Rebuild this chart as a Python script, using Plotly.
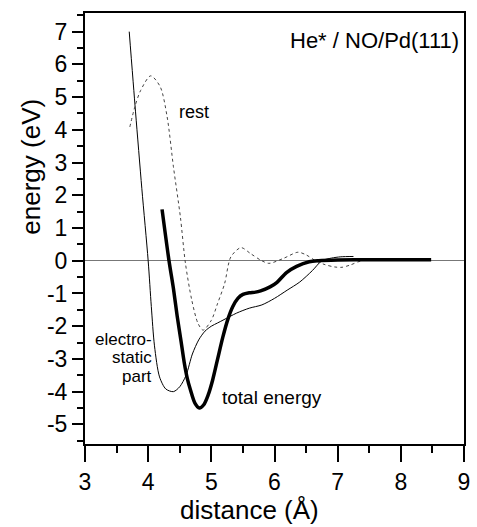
import plotly.graph_objects as go

# ---- data ----
elec_x = [3.70, 3.80, 3.90, 4.00, 4.05, 4.10, 4.18, 4.28, 4.40, 4.50, 4.60, 4.70, 4.80, 4.90, 5.00,
          5.10, 5.20, 5.40, 5.60, 5.80, 6.00, 6.20, 6.40, 6.60, 6.75, 6.90, 7.05, 7.25]
elec_y = [7.00, 4.55, 2.20, 0.00, -1.40, -2.60, -3.55, -3.92, -4.00, -3.85, -3.50, -2.85, -2.42, -2.15, -2.00,
          -1.90, -1.80, -1.60, -1.45, -1.35, -1.15, -0.90, -0.65, -0.30, 0.00, 0.08, 0.12, 0.13]

total_x = [4.22, 4.33, 4.40, 4.46, 4.52, 4.57, 4.62, 4.67, 4.74, 4.81, 4.88, 4.95, 5.02, 5.10, 5.18,
           5.26, 5.34, 5.42, 5.50, 5.60, 5.70, 5.78, 5.93, 6.04, 6.19, 6.35, 6.55, 6.70, 7.00, 7.50, 8.00, 8.48]
total_y = [1.57, 0.00, -0.85, -1.70, -2.45, -3.10, -3.60, -3.95, -4.35, -4.50, -4.40, -4.10, -3.65, -3.00, -2.35,
           -1.80, -1.40, -1.15, -1.03, -0.98, -0.96, -0.92, -0.80, -0.66, -0.36, -0.17, -0.03, 0.00, 0.02, 0.03, 0.03, 0.03]

rest_x = [3.71, 3.79, 3.88, 4.04, 4.19, 4.30, 4.40, 4.51, 4.59, 4.69, 4.79, 4.87, 5.00, 5.10, 5.21,
          5.31, 5.47, 5.62, 5.78, 5.91, 6.14, 6.37, 6.50, 6.65, 6.80, 6.95, 7.07, 7.20, 7.38, 7.60, 8.15]
rest_y = [4.09, 4.71, 5.20, 5.65, 5.32, 4.40, 2.87, 1.34, -0.08, -1.20, -1.92, -2.12, -1.82, -1.30, -0.70,
          0.12, 0.40, 0.22, 0.02, -0.08, 0.07, 0.26, 0.18, 0.00, -0.12, -0.19, -0.20, -0.13, 0.00, 0.02, 0.02]

x_ticks = [3, 4, 5, 6, 7, 8, 9]
x_tick_labels = ["3", "4", "5", "6", "7", "8", "9"]
y_ticks = [7, 6, 5, 4, 3, 2, 1, 0, -1, -2, -3, -4, -5]
y_tick_labels = ["7", "6", "5", "4", "3", "2", "1", "0", "-1", "-2", "-3", "-4", "-5"]

FONT = "Liberation Sans, Arial, Helvetica, sans-serif"

fig = go.Figure()
fig.add_trace(go.Scatter(x=elec_x, y=elec_y, mode="lines",
                         line=dict(color="black", width=1, shape="spline", smoothing=0.8)))
fig.add_trace(go.Scatter(x=rest_x, y=rest_y, mode="lines",
                         line=dict(color="#444444", width=1, dash="dot", shape="spline", smoothing=0.8)))
fig.add_trace(go.Scatter(x=total_x, y=total_y, mode="lines",
                         line=dict(color="black", width=3.5, shape="spline", smoothing=0.8)))

fig.update_layout(
    width=477, height=527,
    margin=dict(l=85, r=7, t=13, b=83),
    paper_bgcolor="white", plot_bgcolor="white",
    showlegend=False,
    font=dict(family=FONT, color="black", size=21),
)
fig.update_xaxes(range=[3, 9], tickvals=x_ticks, ticktext=x_tick_labels,
                 ticks="outside", ticklen=16, tickwidth=1.5, tickcolor="black",
                 minor=dict(dtick=0.5, ticks="outside", ticklen=7, tickwidth=1.5, tickcolor="black"),
                 showline=True, linecolor="black", linewidth=2, mirror=True,
                 showgrid=False, zeroline=False, tickfont=dict(size=23, family=FONT))
fig.update_yaxes(range=[-5.6, 7.57], tickvals=y_ticks, ticktext=y_tick_labels,
                 ticks="outside", ticklen=11, tickwidth=1.5, tickcolor="black",
                 minor=dict(dtick=0.5, ticks="outside", ticklen=6, tickwidth=1.5, tickcolor="black"),
                 showline=True, linecolor="black", linewidth=2, mirror=True,
                 showgrid=False, zeroline=True, zerolinecolor="#777777", zerolinewidth=1,
                 tickfont=dict(size=23, family=FONT))

ann = [
    dict(text="He* / NO/Pd(111)", xref="paper", yref="paper", x=1.0, y=0.937, xshift=-3,
         xanchor="right", yanchor="middle", font=dict(size=22)),
    dict(text="energy (eV)", xref="paper", yref="paper", x=-0.143, y=0.643, textangle=-90,
         xanchor="center", yanchor="middle", font=dict(size=26)),
    dict(text="distance (Å)", xref="paper", yref="paper", x=0.434, y=-0.153,
         xanchor="center", yanchor="middle", font=dict(size=26)),
    dict(text="rest", x=4.45, y=4.54, xanchor="left", yanchor="middle", font=dict(size=18)),
    dict(text="total energy", x=5.13, y=-4.17, xanchor="left", yanchor="middle", font=dict(size=19)),
    dict(text="electro-", x=4.09, y=-2.40, xanchor="right", yanchor="middle", font=dict(size=17)),
    dict(text="static", x=4.09, y=-2.97, xanchor="right", yanchor="middle", font=dict(size=17)),
    dict(text="part", x=4.09, y=-3.54, xanchor="right", yanchor="middle", font=dict(size=17)),
]
for a in ann:
    a.setdefault("showarrow", False)
    fig.add_annotation(**a)

fig.write_html("out.html")
